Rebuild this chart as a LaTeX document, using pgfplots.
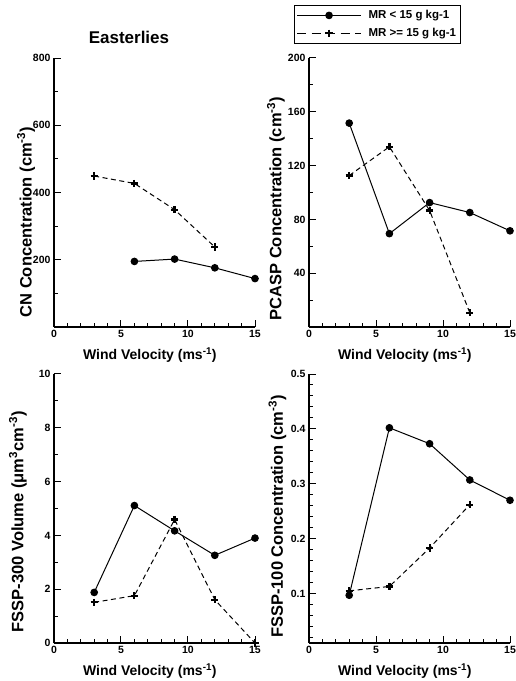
\documentclass[border=0pt]{standalone}
\usepackage{fontspec}
\setmainfont{Liberation Sans}
\usepackage{pgfplots}
\pgfplotsset{compat=1.18}

\pgfplotsset{
  panel/.style={
    scale only axis,
    width=201pt, height=269pt,
    axis lines*=left,
    axis line style={line width=1.3pt},
    xmin=0, xmax=15,
    xtick={0,5,10,15},
    minor xtick={1,2,3,4,6,7,8,9,11,12,13,14},
    tick align=inside,
    major tick length=7pt,
    minor tick length=4pt,
    every tick/.style={line width=1pt, black},
    tick label style={font=\fontsize{10.5}{12}\selectfont\bfseries},
    /pgf/number format/assume math mode=true,
    label style={font=\fontsize{14}{16}\selectfont\bfseries},
    xlabel={Wind Velocity (ms\textsuperscript{-1})},
    xlabel style={at={(axis description cs:0.477,-0.104)}, anchor=center},
    clip=false,
  },
  ylab/.style 2 args={ylabel style={at={(axis description cs:#1,#2)}, anchor=center, font=\fontsize{16.5}{19}\selectfont\bfseries}},
  lowmr/.style={black, line width=1pt, mark=*, mark size=3.3pt, mark options={solid}},
  highmr/.style={black, line width=1pt, dash pattern=on 5pt off 3.5pt, mark=+, mark size=3.6pt, mark options={solid, line width=2.2pt}},
}

\begin{document}
\begin{tikzpicture}[x=1pt,y=1pt]
\useasboundingbox (0,0) rectangle (516,681);

% CN
\begin{axis}[panel, at={(54pt,354pt)}, anchor=south west,
  ymin=0, ymax=800, ytick={200,400,600,800}, minor ytick={100,300,500,700},
  ylabel={CN Concentration (cm\textsuperscript{-3})},
  ylab={-0.139}{0.39},
]
\addplot[lowmr] coordinates {(6,195) (9,202) (12,176) (15,144)};
\addplot[highmr] coordinates {(3,449) (6,427) (9,349) (12,238)};
\node[font=\fontsize{17}{20}\selectfont\bfseries] at (axis description cs:0.373,1.075) {Easterlies};
\end{axis}

% PCASP
\begin{axis}[panel, at={(309pt,354pt)}, anchor=south west,
  ymin=0, ymax=200, ytick={40,80,120,160,200}, minor ytick={20,60,100,140,180},
  ylabel={PCASP Concentration (cm\textsuperscript{-3})},
  ylab={-0.164}{0.44},
  legend style={at={(axis description cs:0.34,1.197)}, anchor=north, draw=black, line width=1pt,
    font=\fontsize{11.5}{13}\selectfont\bfseries, inner xsep=2pt, inner ysep=3pt, row sep=4pt, column sep=5pt},
  legend cell align=left,
  legend image code/.code={\draw[mark repeat=2, mark phase=2, #1] plot coordinates {(0pt,0pt) (32pt,0pt) (64pt,0pt)};},
]
\addplot[lowmr] coordinates {(3,151.6) (6,69.4) (9,92.5) (12,85.1) (15,71.5)};
\addplot[highmr, legend image post style={dash pattern=on 9pt off 5.5pt}] coordinates {(3,112.6) (6,134) (9,86.6) (12,10.6)};
\legend{MR < 15 g kg-1, MR >= 15 g kg-1}
\end{axis}

% FSSP-300
\begin{axis}[panel, at={(54pt,38pt)}, anchor=south west,
  ymin=0, ymax=10, ytick={0,2,4,6,8,10}, minor ytick={1,3,5,7,9},
  ylabel={FSSP-300 Volume (μm\textsuperscript{3}cm\textsuperscript{-3})},
  ylab={-0.18}{0.45},
]
\addplot[lowmr] coordinates {(3,1.88) (6,5.11) (9,4.17) (12,3.26) (15,3.90)};
\addplot[highmr] coordinates {(3,1.51) (6,1.76) (9,4.59) (12,1.61) (15,0.0)};
\end{axis}

% FSSP-100
\begin{axis}[panel, at={(309pt,38pt)}, anchor=south west,
  ymin=0.01, ymax=0.5, ytick={0.1,0.2,0.3,0.4,0.5},
  minor ytick={0.02,0.04,0.06,0.08,0.12,0.14,0.16,0.18,0.22,0.24,0.26,0.28,0.32,0.34,0.36,0.38,0.42,0.44,0.46,0.48},
  yticklabel style={/pgf/number format/fixed, /pgf/number format/precision=1, /pgf/number format/fixed zerofill},
  ylabel={FSSP-100 Concentration (cm\textsuperscript{-3})},
  ylab={-0.157}{0.47},
]
\addplot[lowmr] coordinates {(3,0.097) (6,0.402) (9,0.373) (12,0.307) (15,0.270)};
\addplot[highmr] coordinates {(3,0.105) (6,0.113) (9,0.183) (12,0.262)};
\end{axis}
\end{tikzpicture}
\end{document}
